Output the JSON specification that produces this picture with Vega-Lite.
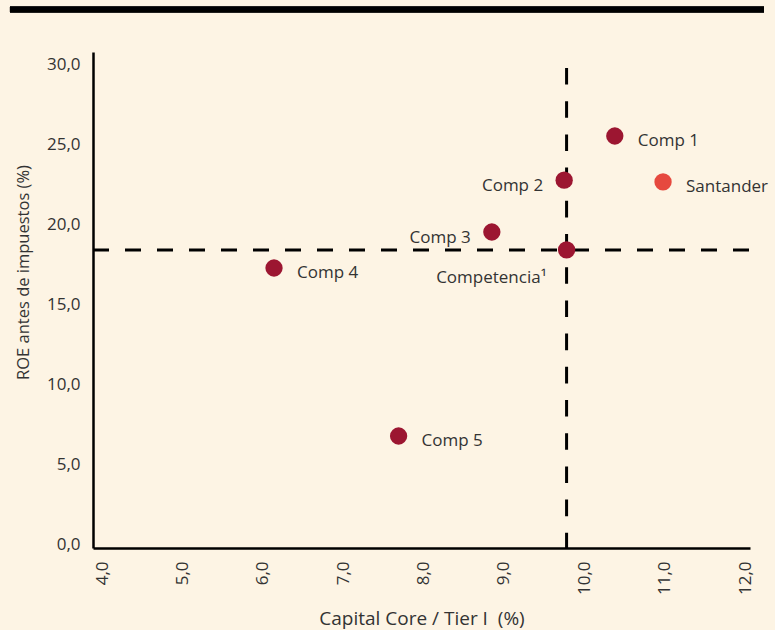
{
  "$schema": "https://vega.github.io/schema/vega-lite/v6.json",
  "autosize": {"type": "none"},
  "padding": {"left": 93, "top": 52, "right": 25, "bottom": 82},
  "width": 657,
  "height": 496,
  "background": "#FDF4E4",
  "config": {
    "view": {"stroke": null},
    "font": "Open Sans",
    "axis": {
      "domainColor": "#000000",
      "domainWidth": 2.5,
      "ticks": false,
      "grid": false,
      "labelColor": "#333333",
      "labelFont": "Open Sans",
      "labelFontSize": 17,
      "titleColor": "#333333",
      "titleFont": "Open Sans",
      "titleFontSize": 16.5,
      "titleFontWeight": "normal"
    }
  },
  "data": {
    "values": [
      {"entidad": "Comp 1", "tier1": 10.38, "roe": 25.56},
      {"entidad": "Santander", "tier1": 10.98, "roe": 22.69},
      {"entidad": "Comp 2", "tier1": 9.75, "roe": 22.8},
      {"entidad": "Comp 3", "tier1": 8.85, "roe": 19.56},
      {"entidad": "Competencia¹", "tier1": 9.78, "roe": 18.44},
      {"entidad": "Comp 4", "tier1": 6.14, "roe": 17.31},
      {"entidad": "Comp 5", "tier1": 7.69, "roe": 6.81}
    ]
  },
  "layer": [
    {
      "mark": {"type": "rule", "color": "#000000", "strokeWidth": 5.5, "clip": false},
      "encoding": {
        "x": {"datum": 2.855, "type": "quantitative", "scale": {"domain": [3.888, 12.062]}},
        "x2": {"datum": 12.236},
        "y": {"datum": 33.47, "type": "quantitative", "scale": {"domain": [-0.19, 30.81]}}
      }
    },
    {
      "transform": [{"filter": "datum.entidad == 'Competencia¹'"}],
      "mark": {"type": "rule", "color": "#000000", "strokeWidth": 3, "strokeDash": [16, 16]},
      "encoding": {
        "x": {"datum": 3.888, "type": "quantitative"},
        "x2": {"datum": 12.062},
        "y": {"field": "roe", "type": "quantitative"}
      }
    },
    {
      "transform": [{"filter": "datum.entidad == 'Competencia¹'"}],
      "mark": {"type": "rule", "color": "#000000", "strokeWidth": 3, "strokeDash": [16.6, 16.6]},
      "encoding": {
        "x": {"field": "tier1", "type": "quantitative"},
        "y": {"datum": 29.81, "type": "quantitative"},
        "y2": {"datum": -0.19}
      }
    },
    {
      "mark": {"type": "circle", "opacity": 1, "size": 300},
      "encoding": {
        "x": {
          "field": "tier1",
          "type": "quantitative",
          "scale": {"domain": [3.888, 12.062], "nice": false, "zero": false},
          "axis": {
            "title": "Capital Core / Tier I\u00a0 (%)",
            "titleFontSize": 19,
            "values": [4, 5, 6, 7, 8, 9, 10, 11, 12],
            "labelAngle": -90,
            "labelPadding": 13,
            "labelExpr": "replace(format(datum.value, '.1f'), '.', ',')",
            "titleBaseline": "alphabetic",
            "titleY": 76
          }
        },
        "y": {
          "field": "roe",
          "type": "quantitative",
          "scale": {"domain": [-0.19, 30.81], "nice": false, "zero": false},
          "axis": {
            "title": "ROE antes de impuestos (%)",
            "values": [0, 5, 10, 15, 20, 25, 30],
            "labelPadding": 13,
            "labelExpr": "replace(format(datum.value, '.1f'), '.', ',')",
            "titleBaseline": "alphabetic",
            "titleX": -65,
            "titleY": 220
          }
        },
        "color": {
          "field": "entidad",
          "type": "nominal",
          "scale": {
            "domain": ["Comp 1", "Santander", "Comp 2", "Comp 3", "Competencia¹", "Comp 4", "Comp 5"],
            "range": ["#9C1631", "#E6493F", "#9C1631", "#9C1631", "#9C1631", "#9C1631", "#9C1631"]
          },
          "legend": null
        }
      }
    },
    {
      "transform": [{"filter": "indexof(['Comp 1', 'Santander', 'Comp 4', 'Comp 5'], datum.entidad) >= 0"}],
      "mark": {"type": "text", "align": "left", "baseline": "alphabetic", "dx": 23, "dy": 10, "fontSize": 17, "color": "#333333"},
      "encoding": {
        "x": {"field": "tier1", "type": "quantitative"},
        "y": {"field": "roe", "type": "quantitative"},
        "text": {"field": "entidad"}
      }
    },
    {
      "transform": [{"filter": "indexof(['Comp 2', 'Comp 3'], datum.entidad) >= 0"}],
      "mark": {"type": "text", "align": "right", "baseline": "alphabetic", "dx": -21, "dy": 11, "fontSize": 17, "color": "#333333"},
      "encoding": {
        "x": {"field": "tier1", "type": "quantitative"},
        "y": {"field": "roe", "type": "quantitative"},
        "text": {"field": "entidad"}
      }
    },
    {
      "transform": [{"filter": "datum.entidad == 'Competencia¹'"}],
      "mark": {"type": "text", "align": "right", "baseline": "alphabetic", "dx": -20, "dy": 33, "fontSize": 17, "color": "#333333"},
      "encoding": {
        "x": {"field": "tier1", "type": "quantitative"},
        "y": {"field": "roe", "type": "quantitative"},
        "text": {"field": "entidad"}
      }
    }
  ]
}
